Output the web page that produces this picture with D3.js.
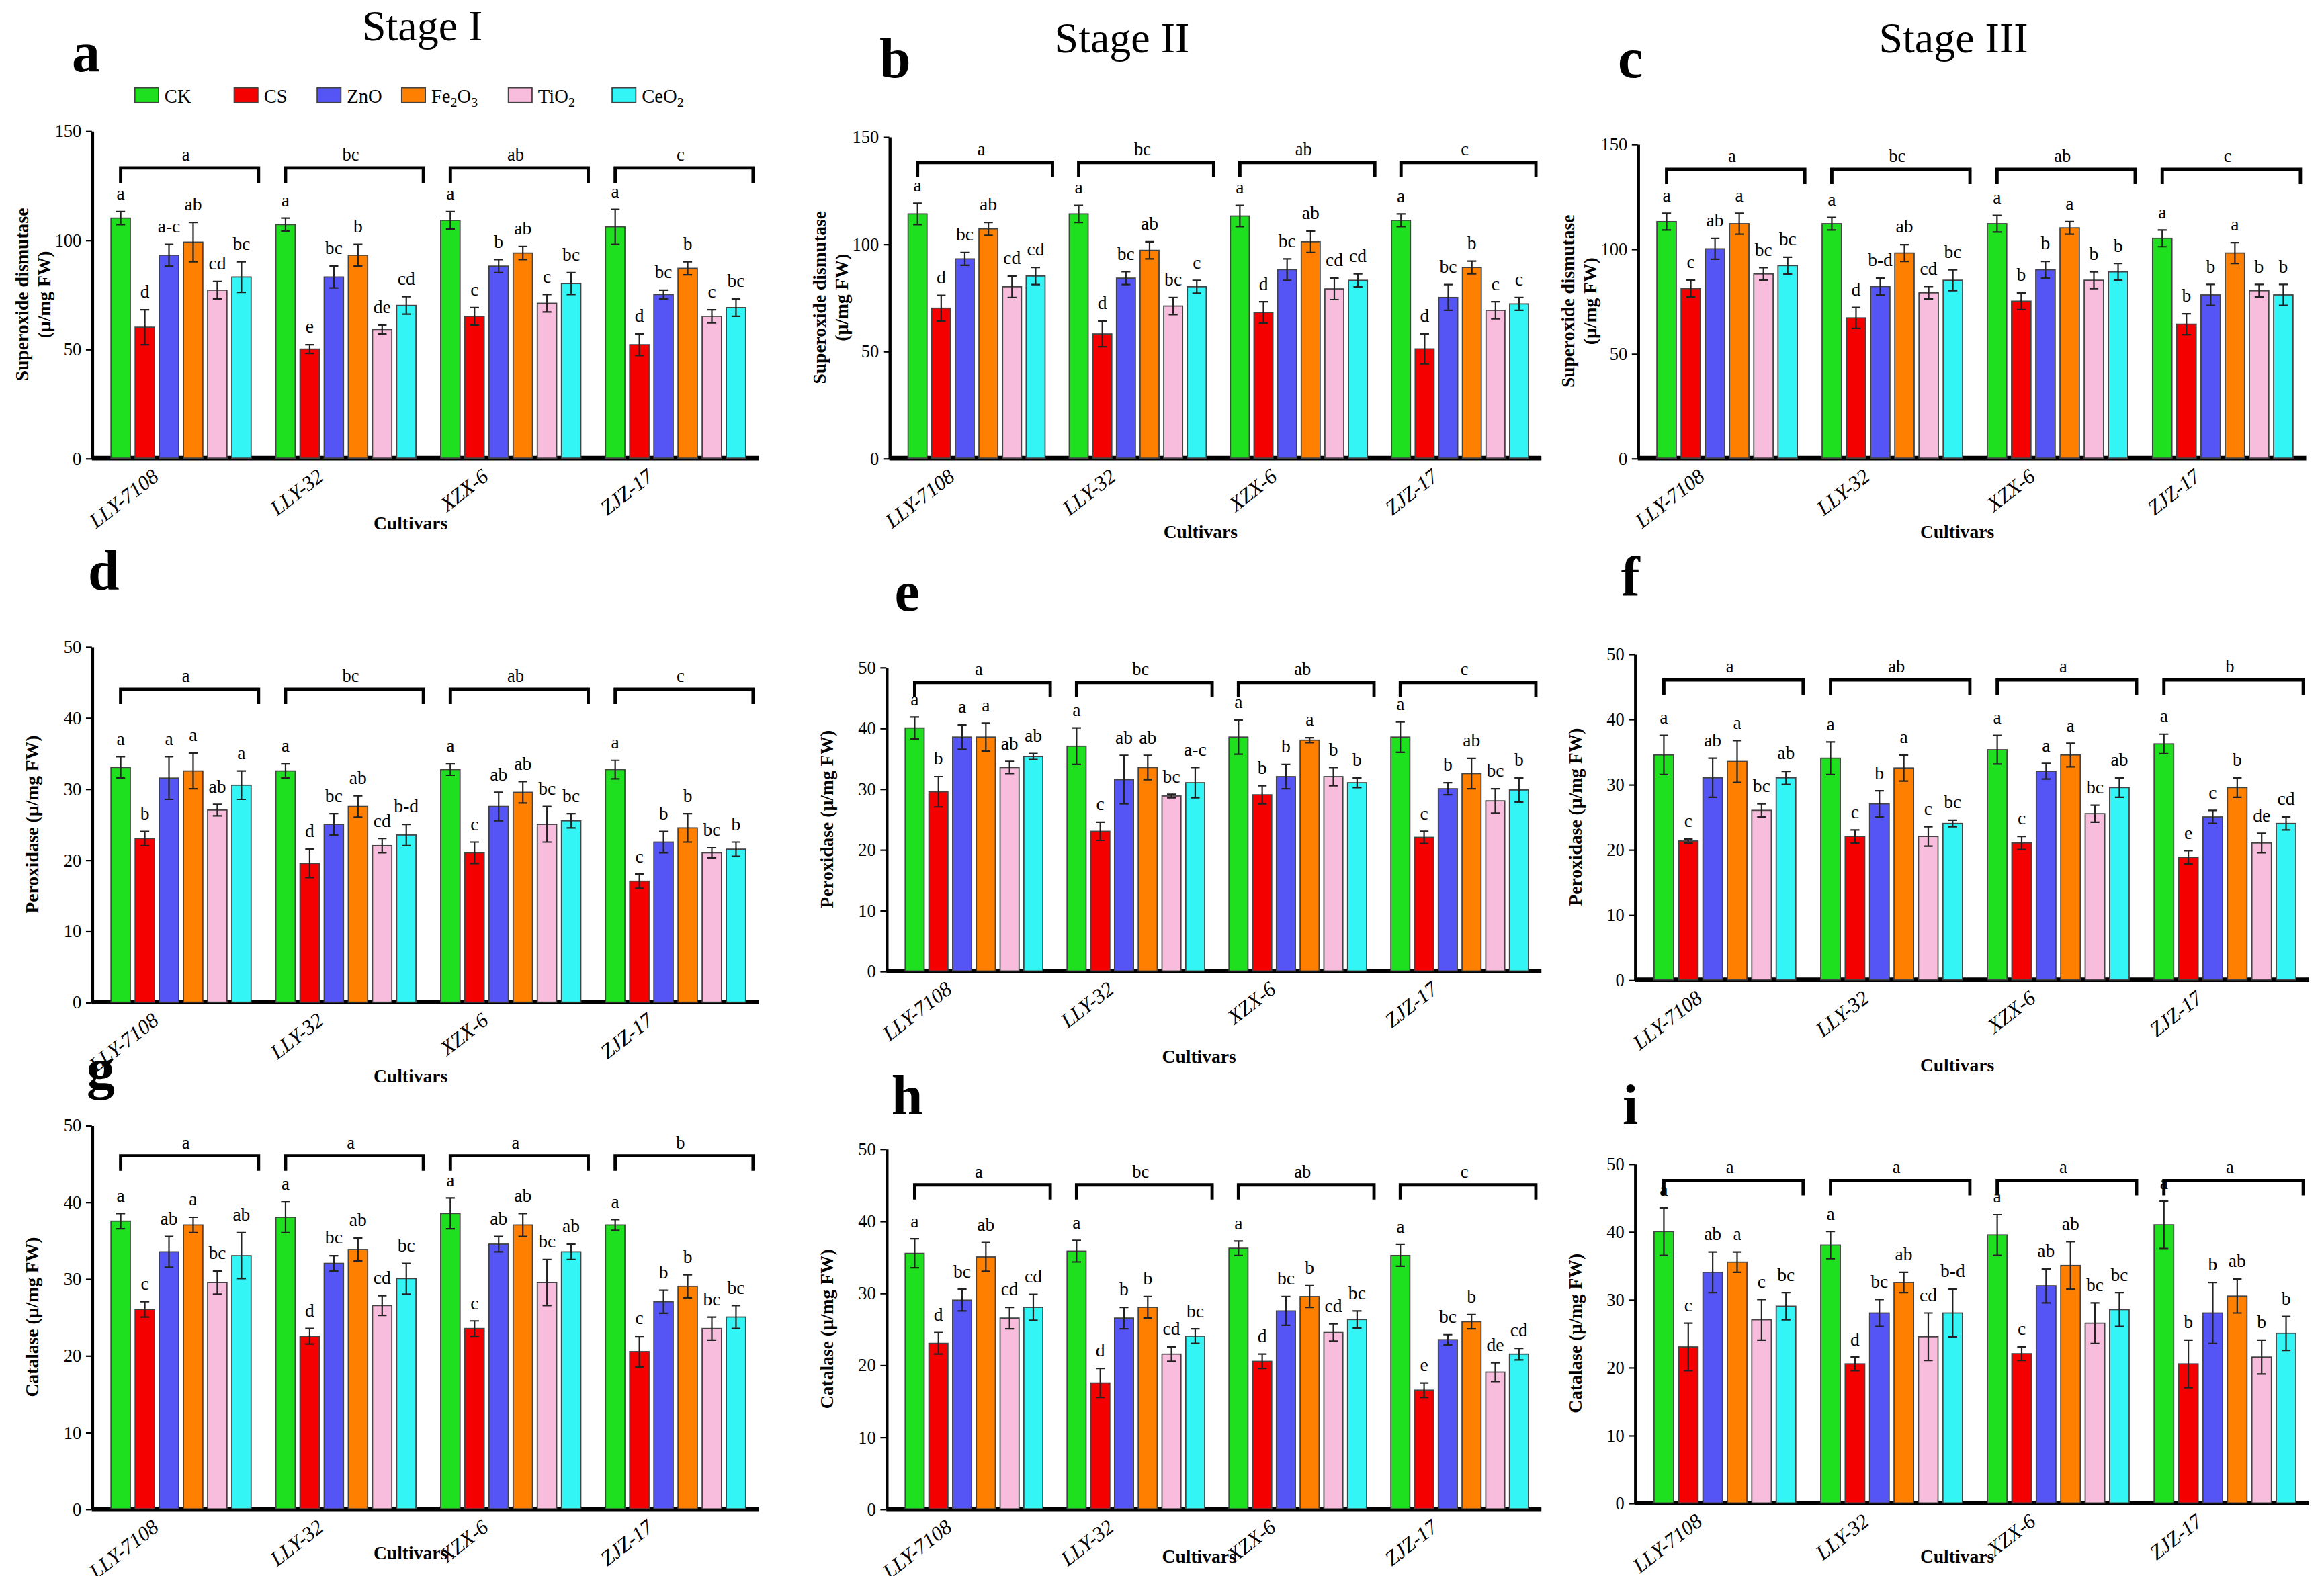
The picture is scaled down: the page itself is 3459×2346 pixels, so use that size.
<!DOCTYPE html>
<html><head><meta charset="utf-8">
<script src="https://cdn.jsdelivr.net/npm/d3@7"></script>
<style>body{margin:0;background:#fff}text{font-family:"Liberation Serif",serif}</style>
</head><body>
<svg id="chart" width="3459" height="2346" viewBox="0 0 1568 1063"></svg>
<script>
const cultivars = ['LLY-7108', 'LLY-32', 'XZX-6', 'ZJZ-17'];
const treatments = ['CK', 'CS', 'ZnO', 'Fe2O3', 'TiO2', 'CeO2'];
const colors = ['#1fe01f', '#f50000', '#5555f5', '#ff8000', '#f8bcdc', '#33f5f5'];

// values per panel: [cultivar][treatment]
const sodS1 = [[110,60,93,99,77,83],[107,50,83,93,59,70],[109,65,88,94,71,80],[106,52,75,87,65,69]];
const sodS1Err = [[3,8,5,9,4,7],[3,2,5,5,2,4],[4,4,3,3,4,5],[8,5,2,3,3,4]];
const sodS2 = [[114,70,93,107,80,85],[114,58,84,97,71,80],[113,68,88,101,79,83],[111,51,75,89,69,72]];
const sodS2Err = [[5,6,3,3,5,4],[4,6,3,4,4,3],[5,5,5,5,5,3],[3,7,6,3,4,3]];
const sodS3 = [[113,81,100,112,88,92],[112,67,82,98,79,85],[112,75,90,110,85,89],[105,64,78,98,80,78]];
const sodS3Err = [[4,4,5,5,3,4],[3,5,4,4,3,5],[4,4,4,3,4,4],[4,5,5,5,3,5]];
const podS1 = [[33,23,31.5,32.5,27,30.5],[32.5,19.5,25,27.5,22,23.5],[32.7,21,27.5,29.5,25,25.5],[32.7,17,22.5,24.5,21,21.5]];
const podS1Err = [[1.5,1,3,2.5,0.8,2],[1,2,1.5,1.5,1,1.5],[0.8,1.5,2,1.5,2.5,1],[1.3,1,1.5,2,0.7,1]];
const podS2 = [[40,29.5,38.5,38.5,33.5,35.3],[37,23,31.5,33.5,28.8,31],[38.5,29,32,38,32,31],[38.5,22,30,32.5,28,29.8]];
const podS2Err = [[1.8,2.5,2,2.3,1,0.5],[3,1.5,4,2,0.3,2.5],[2.8,1.5,2,0.4,1.5,0.8],[2.5,1,1,2.5,2,2]];
const podS3 = [[34.5,21.3,31,33.5,26,31],[34,22,27,32.5,22,24],[35.3,21,32,34.5,25.5,29.5],[36.2,18.8,25,29.5,21,24]];
const podS3Err = [[3,0.3,3,3.2,1,1],[2.5,1,2,2,1.5,0.5],[2.2,1,1.2,1.8,1.3,1.5],[1.5,1,1,1.5,1.5,1]];
const catS1 = [[37.5,26,33.5,37,29.5,33],[38,22.5,32,33.8,26.5,30],[38.5,23.5,34.5,37,29.5,33.5],[37,20.5,27,29,23.5,25]];
const catS1Err = [[1,1,2,1,1.5,3],[2,1,1,1.5,1.3,2],[2,1,1,1.5,3,1],[0.7,2,1.5,1.5,1.5,1.5]];
const catS2 = [[35.5,23,29,35,26.5,28],[35.8,17.5,26.5,28,21.5,24],[36.2,20.5,27.5,29.5,24.5,26.3],[35.2,16.5,23.5,26,19,21.5]];
const catS2Err = [[2,1.5,1.5,2,1.5,1.8],[1.5,2,1.5,1.5,1,1],[1,1,2,1.5,1.2,1.2],[1.5,1,0.7,1,1.3,0.8]];
const catS3 = [[40,23,34,35.5,27,29],[38,20.5,28,32.5,24.5,28],[39.5,22,32,35,26.5,28.5],[41,20.5,28,30.5,21.5,25]];
const catS3Err = [[3.5,3.5,3,1.5,3,2],[2,1,2,1.5,3.5,3.5],[3,1,2.5,3.5,3,2.5],[3.5,3.5,4.5,2.5,2.5,2.5]];

const letA = [['a','d','a-c','ab','cd','bc'],['a','e','bc','b','de','cd'],['a','c','b','ab','c','bc'],['a','d','bc','b','c','bc']];
const letB = [['a','d','bc','ab','cd','cd'],['a','d','bc','ab','bc','c'],['a','d','bc','ab','cd','cd'],['a','d','bc','b','c','c']];
const letC = [['a','c','ab','a','bc','bc'],['a','d','b-d','ab','cd','bc'],['a','b','b','a','b','b'],['a','b','b','a','b','b']];
const letD = [['a','b','a','a','ab','a'],['a','d','bc','ab','cd','b-d'],['a','c','ab','ab','bc','bc'],['a','c','b','b','bc','b']];
const letE = [['a','b','a','a','ab','ab'],['a','c','ab','ab','bc','a-c'],['a','b','b','a','b','b'],['a','c','b','ab','bc','b']];
const letF = [['a','c','ab','a','bc','ab'],['a','c','b','a','c','bc'],['a','c','a','a','bc','ab'],['a','e','c','b','de','cd']];
const letG = [['a','c','ab','a','bc','ab'],['a','d','bc','ab','cd','bc'],['a','c','ab','ab','bc','ab'],['a','c','b','b','bc','bc']];
const letH = [['a','d','bc','ab','cd','cd'],['a','d','b','b','cd','bc'],['a','d','bc','b','cd','bc'],['a','e','bc','b','de','cd']];
const letI = [['a','c','ab','a','c','bc'],['a','d','bc','ab','cd','b-d'],['a','c','ab','ab','bc','bc'],['a','b','b','ab','b','b']];
const groupLetters = {a:['a','bc','ab','c'], b:['a','bc','ab','c'], c:['a','bc','ab','c'],
  d:['a','bc','ab','c'], e:['a','bc','ab','c'], f:['a','ab','a','b'],
  g:['a','a','a','b'], h:['a','bc','ab','c'], i:['a','a','a','a']};
const sodTicks = [0, 50, 100, 150];
const podTicks = [0, 10, 20, 30, 40, 50];

const panels = [
  {id:'a', v:sodS1, e:sodS1Err, l:letA, ticks:sodTicks, x0:62, x1:512, y0:309, y1:88, ylab:['Superoxide dismutase','(µ/mg FW)'], br:133, xl:48},
  {id:'b', v:sodS2, e:sodS2Err, l:letB, ticks:sodTicks, x0:600, x1:1040, y0:309, y1:92, ylab:['Superoxide dismutase','(µ/mg FW)'], br:138, xl:54},
  {id:'c', v:sodS3, e:sodS3Err, l:letC, ticks:sodTicks, x0:1105, x1:1556, y0:309, y1:97, ylab:['Superoxide dismutase','(µ/mg FW)'], br:138, xl:54},
  {id:'d', v:podS1, e:podS1Err, l:letD, ticks:podTicks, x0:62, x1:512, y0:676, y1:436, ylab:['Peroxidase (µ/mg FW)'], br:44, xl:54},
  {id:'e', v:podS2, e:podS2Err, l:letE, ticks:podTicks, x0:598, x1:1040, y0:655, y1:450, ylab:['Peroxidase (µ/mg FW)'], br:47.5, xl:62},
  {id:'f', v:podS3, e:podS3Err, l:letF, ticks:podTicks, x0:1103, x1:1558, y0:661, y1:441, ylab:['Peroxidase (µ/mg FW)'], br:46, xl:62},
  {id:'g', v:catS1, e:catS1Err, l:letG, ticks:podTicks, x0:62, x1:512, y0:1018, y1:759, ylab:['Catalase (µ/mg FW)'], br:46, xl:34},
  {id:'h', v:catS2, e:catS2Err, l:letH, ticks:podTicks, x0:598, x1:1040, y0:1018, y1:775, ylab:['Catalase (µ/mg FW)'], br:45, xl:36},
  {id:'i', v:catS3, e:catS3Err, l:letI, ticks:podTicks, x0:1103, x1:1558, y0:1014, y1:785, ylab:['Catalase (µ/mg FW)'], br:47.5, xl:40}
];
const letterPos = {a:[58,48], b:[604,52], c:[1100,52], d:[70,398], e:[612,412], f:[1100,402], g:[68,734], h:[612,752], i:[1100,758]};

const svg = d3.select('#chart');

// stage titles
[['Stage I',285,27],['Stage II',757,35],['Stage III',1318,35]].forEach(([t,x,y]) =>
  svg.append('text').attr('x',x).attr('y',y).attr('text-anchor','middle').attr('font-size',29).text(t));

panels.forEach(p => {
  const g = svg.append('g');
  const y = d3.scaleLinear().domain([0, d3.max(p.ticks)]).range([p.y0, p.y1]);
  const x = d3.scaleBand().domain(cultivars).range([p.x0 + 4, p.x1]).paddingInner(0.15).paddingOuter(0.08);
  const xi = d3.scaleBand().domain(treatments).range([0, x.bandwidth()]).paddingInner(0.2);

  // panel letter
  g.append('text').attr('x', letterPos[p.id][0]).attr('y', letterPos[p.id][1])
    .attr('font-size', 38).attr('font-weight', 'bold').attr('text-anchor','middle').text(p.id);

  // y axis
  const ya = g.append('g').attr('transform', `translate(${p.x0},0)`)
    .call(d3.axisLeft(y).tickValues(p.ticks).tickSize(4).tickSizeOuter(0));
  ya.select('.domain').attr('stroke-width', 2);
  ya.selectAll('text').attr('font-size', 12).attr('font-family', '"Liberation Serif",serif');

  // x axis line
  g.append('line').attr('x1', p.x0).attr('x2', p.x1).attr('y1', p.y0).attr('y2', p.y0)
    .attr('stroke', '#000').attr('stroke-width', 3);

  // y label
  const ly = (p.y0 + p.y1) / 2;
  const lt = g.append('text').attr('transform', `translate(${p.x0 - 40},${ly}) rotate(-90)`)
    .attr('text-anchor', 'middle').attr('font-size', 12.5).attr('font-weight', 'bold');
  p.ylab.forEach((s, k) => lt.append('tspan').attr('x', 0).attr('dy', k === 0 ? (p.ylab.length > 1 ? -3 : 4) : 15).text(s));

  // x label
  g.append('text').attr('x', (p.x0 + p.x1) / 2 - 10).attr('y', p.y0 + p.xl).attr('text-anchor', 'middle')
    .attr('font-size', 12.5).attr('font-weight', 'bold').text('Cultivars');

  cultivars.forEach((c, ci) => {
    const gx = x(c);
    // tick label
    g.append('text').attr('transform', `translate(${gx + x.bandwidth() * 0.35},${p.y0 + 14}) rotate(-38)`)
      .attr('text-anchor', 'end').attr('font-size', 14).attr('font-style', 'italic').text(c);
    // bracket
    const by = y(p.br);
    const bx0 = gx + xi('CK') + xi.bandwidth() / 2, bx1 = gx + xi('CeO2') + xi.bandwidth();
    g.append('path').attr('d', `M${bx0},${by + 10}V${by}H${bx1 + 5}V${by + 10}`)
      .attr('fill', 'none').attr('stroke', '#000').attr('stroke-width', 2.2);
    g.append('text').attr('x', (bx0 + bx1) / 2).attr('y', by - 5).attr('text-anchor', 'middle')
      .attr('font-size', 12).text(groupLetters[p.id][ci]);

    treatments.forEach((t, ti) => {
      const v = p.v[ci][ti], e = p.e[ci][ti];
      const bx = gx + xi(t), bw = xi.bandwidth();
      g.append('rect').attr('x', bx).attr('y', y(v)).attr('width', bw).attr('height', p.y0 - y(v))
        .attr('fill', colors[ti]).attr('stroke', '#444').attr('stroke-width', 0.8);
      const cx = bx + bw / 2;
      g.append('path').attr('d', `M${cx - 3},${y(v + e)}H${cx + 3}M${cx},${y(v + e)}V${y(v - e)}M${cx - 3},${y(v - e)}H${cx + 3}`)
        .attr('stroke', '#222').attr('stroke-width', 1).attr('fill', 'none');
      g.append('text').attr('x', cx).attr('y', y(v + e) - 8).attr('text-anchor', 'middle')
        .attr('font-size', 12.5).text(p.l[ci][ti]);
    });
  });
});

// legend
const legX = [115, 182, 238, 295, 367, 437];
const legLab = [['CK'], ['CS'], ['ZnO'], ['Fe', '2', 'O', '3'], ['TiO', '2'], ['CeO', '2']];
treatments.forEach((t, i) => {
  svg.append('rect').attr('x', legX[i] - 24).attr('y', 59).attr('width', 16).attr('height', 10)
    .attr('fill', colors[i]).attr('stroke', '#444').attr('stroke-width', 0.8);
  const tx = svg.append('text').attr('x', legX[i] - 4).attr('y', 69).attr('font-size', 13);
  legLab[i].forEach((s, k) => tx.append('tspan').attr('font-size', k % 2 ? 9 : 13)
    .attr('dy', k % 2 ? 3 : (k > 0 ? -3 : 0)).text(s));
});
</script>
</body></html>
